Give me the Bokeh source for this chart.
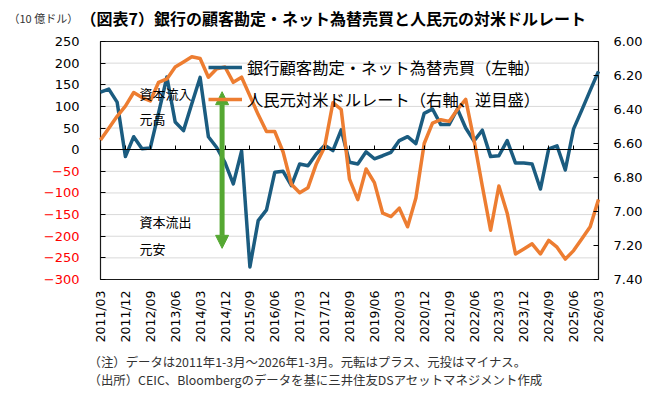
import math
from bokeh.plotting import figure
from bokeh.models import (Range1d, LinearAxis, FixedTicker, Label, Legend, LegendItem,
                          Arrow, NormalHead, NumeralTickFormatter)
from bokeh.embed import file_html
from bokeh.resources import INLINE

# ---- data (quarterly, 2011 Q1 .. 2026 Q1) ----
# bank customer account net FX purchases (10 bn USD, left axis)
bank_net_fx = [133, 140, 110, -16, 30, 2, 4, 85, 168, 64,
               44, 106, 167, 30, 5, -30, -79, -3, -271, -164,
               -139, -52, -50, -83, -33, -37, -10, 10, -2, 46,
               -29, -33, -5, -21, -14, -6, 21, 30, 14, 84,
               94, 58, 58, 94, 50, 20, 45, -16, -14, 21,
               -31, -31, -33, -91, 2, 9, -47, 48, 92, 137,
               181]
# CNY per USD (right axis, reversed)
cny_per_usd = [6.58, 6.51, 6.44, 6.38, 6.30, 6.33, 6.35, 6.24, 6.22, 6.15,
               6.12, 6.09, 6.10, 6.21, 6.16, 6.15, 6.24, 6.21, 6.32, 6.43,
               6.53, 6.53, 6.65, 6.84, 6.89, 6.86, 6.72, 6.62, 6.36, 6.40,
               6.81, 6.93, 6.75, 6.83, 7.01, 7.03, 6.98, 7.09, 6.92, 6.60,
               6.48, 6.46, 6.47, 6.40, 6.34, 6.58, 6.85, 7.11, 6.85, 7.01,
               7.25, 7.22, 7.19, 7.25, 7.17, 7.21, 7.28, 7.23, 7.16, 7.09,
               6.93]
tick_labels = ["2011/03", "2011/12", "2012/09", "2013/06", "2014/03", "2014/12",
               "2015/09", "2016/06", "2017/03", "2017/12", "2018/09", "2019/06",
               "2020/03", "2020/12", "2021/09", "2022/06", "2023/03", "2023/12",
               "2024/09", "2025/06", "2026/03"]
left_ticks = [-300, -250, -200, -150, -100, -50, 0, 50, 100, 150, 200, 250]
right_ticks = [6.0, 6.2, 6.4, 6.6, 6.8, 7.0, 7.2, 7.4]

title_text = "（図表7）銀行の顧客勘定・ネット為替売買と人民元の対米ドルレート"
unit_text = "（10 億ドル）"
legend_labels = ["銀行顧客勘定・ネット為替売買（左軸）", "人民元対米ドルレート（右軸、逆目盛）"]
note1 = "（注）データは2011年1-3月～2026年1-3月。元転はプラス、元投はマイナス。"
note2 = "（出所）CEIC、Bloombergのデータを基に三井住友DSアセットマネジメント作成"

BLUE = "#1b5c80"
ORANGE = "#ed7d31"
GREEN = "#55a832"
BOX = "#1a1a1a"
NUM_FONT = "DejaVu Sans"
JP_FONT = "Noto Sans CJK JP"

# ---- canvas layout (pixels) ----
W, H = 650, 395
FL, FR, FT, FB = 100, 598, 41, 279   # plot box edges

x = list(range(len(bank_net_fx)))
tick_pos = x[::3]
xpp = (FR - FL) / (x[-1] - x[0])
ypp = (FB - FT) / (left_ticks[-1] - left_ticks[0])
rpp = (FB - FT) / (right_ticks[-1] - right_ticks[0])

p = figure(width=W, height=H, output_backend="svg", toolbar_location=None,
           x_range=Range1d(x[0] - FL / xpp, x[-1] + (W - FR) / xpp),
           y_range=Range1d(left_ticks[0] - (H - FB) / ypp, left_ticks[-1] + FT / ypp),
           x_axis_location=None, y_axis_location=None, min_border=0,
           outline_line_color=None, background_fill_color="white",
           border_fill_color="white")
p.extra_y_ranges = {"fx": Range1d(right_ticks[-1] + (H - FB) / rpp,
                                  right_ticks[0] - FT / rpp)}
p.grid.visible = False

# horizontal gridlines and plot box
p.segment(x0=[x[0]] * len(left_ticks), x1=[x[-1]] * len(left_ticks),
          y0=left_ticks, y1=left_ticks, line_color="#d9d9d9", line_width=1)
p.quad(left=x[0], right=x[-1], bottom=left_ticks[0], top=left_ticks[-1],
       fill_color=None, line_color=BOX, line_width=1.2)


def style_axis(ax, standoff, color, size="13px"):
    ax.major_tick_out = 0
    ax.minor_tick_line_color = None
    ax.axis_line_color = None
    ax.major_label_standoff = standoff
    ax.major_label_text_font = NUM_FONT
    ax.major_label_text_font_size = size
    ax.major_label_text_color = color


# left axis: negative labels red, with inward ticks
ya_neg = LinearAxis(fixed_location=x[0], ticker=FixedTicker(ticks=left_ticks),
                    bounds=(left_ticks[0], left_ticks[-1]))
ya_neg.major_label_overrides = {t: "" for t in left_ticks if t >= 0}
style_axis(ya_neg, 21, "red")
ya_neg.major_tick_in = 5
ya_neg.major_tick_line_color = "black"
p.add_layout(ya_neg, "left")

# left axis: non-negative labels black
ya_pos = LinearAxis(fixed_location=x[0], ticker=FixedTicker(ticks=left_ticks),
                    bounds=(left_ticks[0], left_ticks[-1]))
ya_pos.major_label_overrides = {t: "" for t in left_ticks if t < 0}
style_axis(ya_pos, 21, "black")
ya_pos.major_tick_in = 0
ya_pos.major_tick_line_color = None
p.add_layout(ya_pos, "left")

# right axis (reversed CNY scale)
ra = LinearAxis(y_range_name="fx", fixed_location=x[-1],
                ticker=FixedTicker(ticks=right_ticks),
                bounds=(right_ticks[0], right_ticks[-1]),
                formatter=NumeralTickFormatter(format="0.00"))
style_axis(ra, 15, "black")
ra.major_tick_in = 5
ra.major_tick_line_color = "black"
p.add_layout(ra, "right")

# bottom category axis
xa = LinearAxis(fixed_location=left_ticks[0], ticker=FixedTicker(ticks=tick_pos),
                bounds=(x[0], x[-1]))
xa.major_label_overrides = {t: lab for t, lab in zip(tick_pos, tick_labels)}
xa.major_label_orientation = math.pi / 2
style_axis(xa, 11, "black", "12.5px")
xa.major_tick_in = 0
xa.major_tick_line_color = None
p.add_layout(xa, "below")

# zero line with its small tick marks
za = LinearAxis(fixed_location=0, ticker=FixedTicker(ticks=tick_pos), bounds=(x[0], x[-1]))
za.major_label_overrides = {t: "" for t in tick_pos}
za.major_tick_in = 4
za.major_tick_out = 0
za.major_tick_line_color = "black"
za.minor_tick_line_color = None
za.axis_line_color = "black"
za.axis_line_width = 1.2
p.add_layout(za, "below")

# series
rb = p.line(x, bank_net_fx, line_color=BLUE, line_width=3.5, line_join="round")
ro = p.line(x, cny_per_usd, y_range_name="fx", line_color=ORANGE, line_width=3.5,
            line_join="round")

legend = Legend(items=[LegendItem(label=legend_labels[0], renderers=[rb]),
                       LegendItem(label=legend_labels[1], renderers=[ro])],
                location=(208, H - 111), orientation="vertical",
                glyph_width=34, glyph_height=20, label_height=20, spacing=8,
                padding=0, margin=0, label_standoff=5,
                background_fill_alpha=0, border_line_color=None,
                label_text_font=JP_FONT, label_text_font_size="16.3px",
                label_text_color="black")
p.add_layout(legend)

# capital flow arrow and notes
arrow_x = 14.65
p.add_layout(Arrow(x_start=arrow_x, y_start=134, x_end=arrow_x, y_end=-228,
                   line_color=GREEN, line_width=5,
                   start=NormalHead(size=13, fill_color=GREEN, line_color=GREEN),
                   end=NormalHead(size=13, fill_color=GREEN, line_color=GREEN)))
for txt, yy in [("資本流入", 130), ("元高", 72), ("資本流出", -166), ("元安", -228)]:
    p.add_layout(Label(x=4.7, y=yy, text=txt, text_align="left", text_baseline="middle",
                       text_font=JP_FONT, text_font_size="13px", text_color="black"))


def screen_label(text, sx, sy_top, size, color, style="normal"):
    p.add_layout(Label(x=sx, y=H - sy_top, x_units="screen", y_units="screen", text=text,
                       text_align="left", text_baseline="middle", text_font=JP_FONT,
                       text_font_size=size, text_font_style=style, text_color=color))


screen_label(unit_text, 8, 17, "11px", "#333333")
screen_label(title_text, 80, 17, "16px", "black", "bold")
screen_label(note1, 88, 361, "12.4px", "#333333")
screen_label(note2, 88, 379, "12.4px", "#333333")

open("out.html", "w").write(file_html(p, INLINE))
